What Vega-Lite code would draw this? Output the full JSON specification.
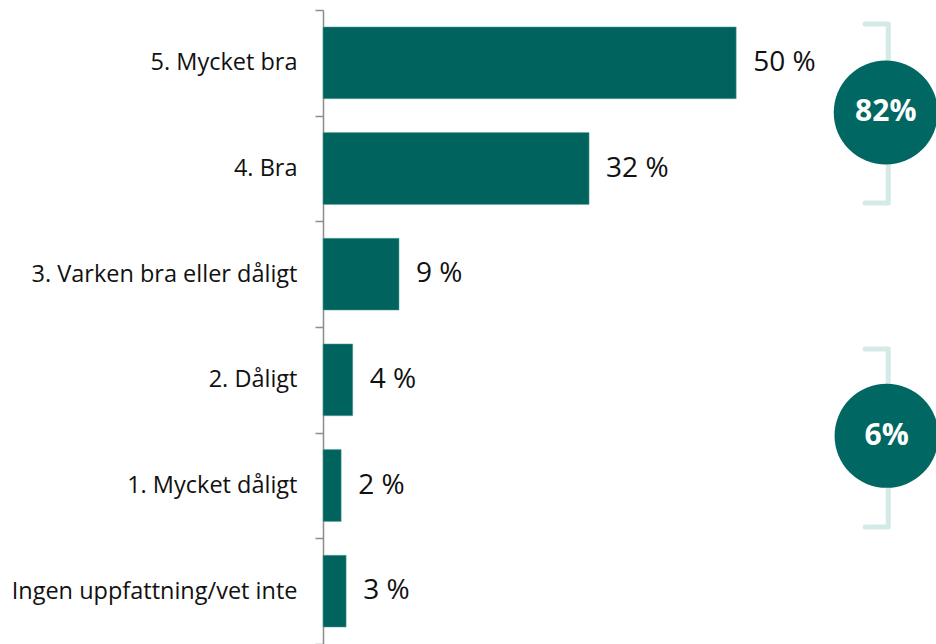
{
  "$schema": "https://vega.github.io/schema/vega-lite/v6.json",
  "width": 613,
  "height": 634,
  "autosize": "none",
  "padding": {"left": 323, "top": 10, "right": 0, "bottom": 0},
  "background": "white",
  "config": {"view": {"stroke": null}, "font": "Open Sans"},
  "datasets": {
    "bars": [
      {"kategori": "5. Mycket bra", "andel": 50.0, "etikett": "50 %"},
      {"kategori": "4. Bra", "andel": 32.2, "etikett": "32 %"},
      {"kategori": "3. Varken bra eller dåligt", "andel": 9.2, "etikett": "9 %"},
      {"kategori": "2. Dåligt", "andel": 3.6, "etikett": "4 %"},
      {"kategori": "1. Mycket dåligt", "andel": 2.2, "etikett": "2 %"},
      {"kategori": "Ingen uppfattning/vet inte", "andel": 2.8, "etikett": "3 %"}
    ],
    "brackets": [
      {"grupp": "bra", "ordning": 1, "x": 65.6, "y": 0.132},
      {"grupp": "bra", "ordning": 2, "x": 68.4, "y": 0.132},
      {"grupp": "bra", "ordning": 3, "x": 68.4, "y": 1.826},
      {"grupp": "bra", "ordning": 4, "x": 65.6, "y": 1.826},
      {"grupp": "daligt", "ordning": 1, "x": 65.6, "y": 3.208},
      {"grupp": "daligt", "ordning": 2, "x": 68.4, "y": 3.208},
      {"grupp": "daligt", "ordning": 3, "x": 68.4, "y": 4.893},
      {"grupp": "daligt", "ordning": 4, "x": 65.6, "y": 4.893}
    ],
    "summor": [
      {"x": 68.1, "y": 0.97, "text": "82%"},
      {"x": 68.2, "y": 4.03, "text": "6%"}
    ]
  },
  "layer": [
    {
      "data": {"name": "bars"},
      "encoding": {
        "y": {
          "field": "kategori", "type": "nominal", "sort": null,
          "scale": {"paddingInner": 0, "paddingOuter": 0},
          "axis": {
            "title": null, "domainColor": "#8c8c8c", "domainWidth": 1.5,
            "tickColor": "#8c8c8c", "tickWidth": 1.5, "tickSize": 8, "tickBand": "extent",
            "labelFontSize": 23.5, "labelColor": "#111111", "labelPadding": 18, "labelFont": "Open Sans",
            "labelLimit": 400, "grid": false
          }
        },
        "x": {"field": "andel", "type": "quantitative", "scale": {"domain": [0, 74.18], "nice": false, "zero": true}, "axis": null}
      },
      "layer": [
        {"mark": {"type": "bar", "color": "#00635e", "stroke": "#5fa8a2", "strokeWidth": 0.5, "height": {"band": 0.68}}},
        {"mark": {"type": "text", "align": "left", "baseline": "middle", "dx": 17, "fontSize": 28, "color": "#111111", "font": "Open Sans"},
         "encoding": {"text": {"field": "etikett"}}}
      ]
    },
    {
      "data": {"name": "brackets"},
      "mark": {"type": "line", "color": "#d4eae7", "strokeWidth": 5, "strokeCap": "round", "strokeJoin": "round"},
      "encoding": {
        "x": {"field": "x", "type": "quantitative"},
        "y": {"field": "y", "type": "quantitative", "scale": {"domain": [0, 6], "reverse": true, "nice": false, "zero": false}, "axis": null},
        "detail": {"field": "grupp"},
        "order": {"field": "ordning"}
      }
    },
    {
      "data": {"name": "summor"},
      "encoding": {
        "x": {"field": "x", "type": "quantitative"},
        "y": {"field": "y", "type": "quantitative", "scale": {"domain": [0, 6], "reverse": true, "nice": false, "zero": false}, "axis": null}
      },
      "layer": [
        {"mark": {"type": "point", "shape": "circle", "filled": true, "size": 10816, "color": "#006762", "opacity": 1}},
        {"mark": {"type": "text", "align": "center", "baseline": "middle", "fontSize": 30, "fontWeight": "bold", "color": "white", "font": "Open Sans"},
         "encoding": {"text": {"field": "text"}}}
      ]
    }
  ],
  "resolve": {"scale": {"y": "independent"}, "axis": {"y": "independent"}}
}
